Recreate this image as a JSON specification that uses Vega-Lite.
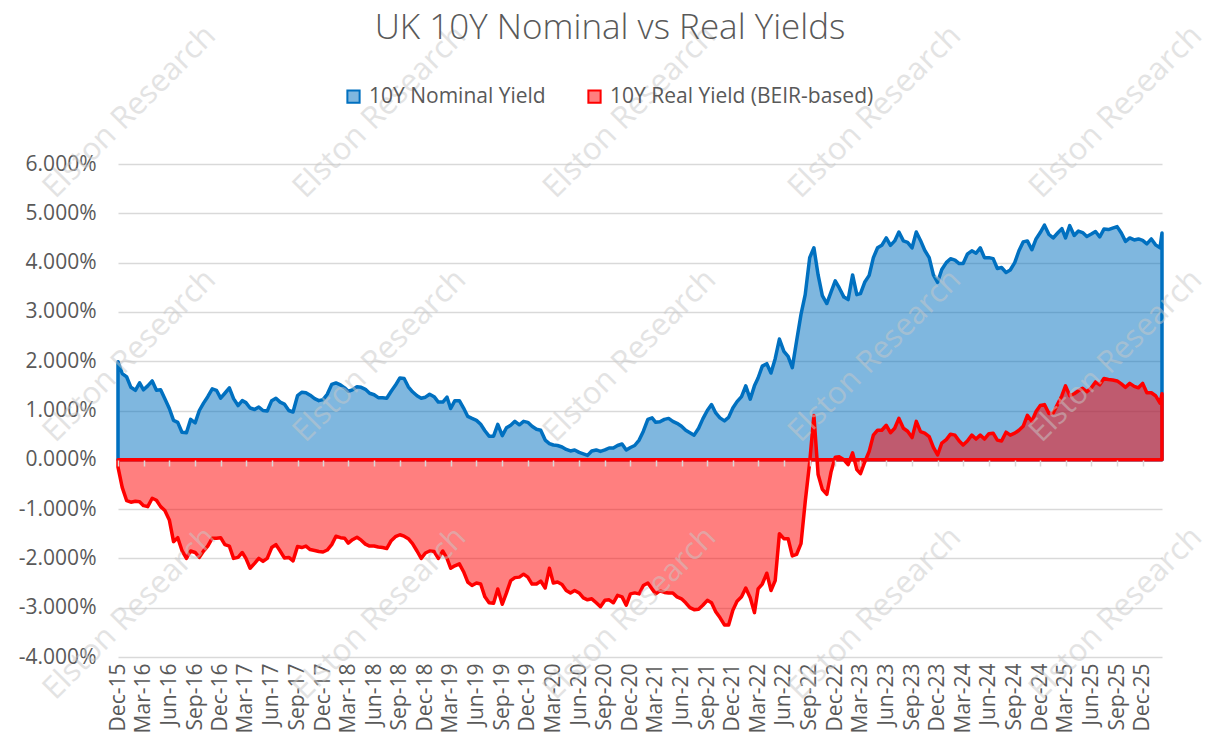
{
"$schema":"https://vega.github.io/schema/vega-lite/v6.json",
"width":1044,"height":493,
"autosize":{"type":"none"},
"padding":{"left":118,"top":164,"right":54,"bottom":81},
"background":"#FFFFFF",
"config":{"view":{"stroke":null},"font":"Open Sans"},
"title":{"text":"UK 10Y Nominal vs Real Yields","fontSize":35,"fontWeight":300,"font":"Open Sans","color":"#595959","anchor":"middle","frame":"group","offset":-26,"dx":-30},
"datasets":{"marks":[
{"text":"Elston Research","d":"2016-01-12","v":7.05},{"text":"Elston Research","d":"2018-06-22","v":7.05},{"text":"Elston Research","d":"2020-11-30","v":7.05},{"text":"Elston Research","d":"2023-04-22","v":7.05},{"text":"Elston Research","d":"2025-08-28","v":7.05},
{"text":"Elston Research","d":"2016-01-12","v":2.1},{"text":"Elston Research","d":"2018-06-22","v":2.1},{"text":"Elston Research","d":"2020-11-30","v":2.1},{"text":"Elston Research","d":"2023-04-22","v":2.1},{"text":"Elston Research","d":"2025-08-28","v":2.1},
{"text":"Elston Research","d":"2016-01-12","v":-3.12},{"text":"Elston Research","d":"2018-06-22","v":-3.12},{"text":"Elston Research","d":"2020-11-30","v":-3.12},{"text":"Elston Research","d":"2023-04-22","v":-3.12},{"text":"Elston Research","d":"2025-08-28","v":-3.12}
]},
"data":{"values":[
{"d":"2015-12-01","n":1.99,"r":-0.15},{"d":"2015-12-16","n":1.75,"r":-0.56},
{"d":"2016-01-01","n":1.68,"r":-0.83},{"d":"2016-01-16","n":1.47,"r":-0.86},
{"d":"2016-02-01","n":1.41,"r":-0.84},{"d":"2016-02-16","n":1.56,"r":-0.85},
{"d":"2016-03-01","n":1.42,"r":-0.93},{"d":"2016-03-16","n":1.5,"r":-0.95},
{"d":"2016-04-01","n":1.6,"r":-0.78},{"d":"2016-04-16","n":1.41,"r":-0.82},
{"d":"2016-05-01","n":1.42,"r":-0.95},{"d":"2016-05-16","n":1.24,"r":-1.03},
{"d":"2016-06-01","n":1.04,"r":-1.22},{"d":"2016-06-16","n":0.8,"r":-1.66},
{"d":"2016-07-01","n":0.76,"r":-1.58},{"d":"2016-07-16","n":0.56,"r":-1.84},
{"d":"2016-08-01","n":0.55,"r":-2.0},{"d":"2016-08-16","n":0.82,"r":-1.85},
{"d":"2016-09-01","n":0.75,"r":-1.88},{"d":"2016-09-16","n":1.0,"r":-1.98},
{"d":"2016-10-01","n":1.15,"r":-1.85},{"d":"2016-10-16","n":1.28,"r":-1.75},
{"d":"2016-11-01","n":1.44,"r":-1.59},{"d":"2016-11-16","n":1.41,"r":-1.59},
{"d":"2016-12-01","n":1.25,"r":-1.58},{"d":"2016-12-16","n":1.35,"r":-1.72},
{"d":"2017-01-01","n":1.46,"r":-1.75},{"d":"2017-01-16","n":1.24,"r":-2.0},
{"d":"2017-02-01","n":1.1,"r":-1.98},{"d":"2017-02-16","n":1.2,"r":-1.88},
{"d":"2017-03-01","n":1.16,"r":-2.0},{"d":"2017-03-16","n":1.05,"r":-2.2},
{"d":"2017-04-01","n":1.02,"r":-2.1},{"d":"2017-04-16","n":1.07,"r":-2.0},
{"d":"2017-05-01","n":1.0,"r":-2.06},{"d":"2017-05-16","n":0.99,"r":-2.0},
{"d":"2017-06-01","n":1.2,"r":-1.78},{"d":"2017-06-16","n":1.25,"r":-1.72},
{"d":"2017-07-01","n":1.17,"r":-1.85},{"d":"2017-07-16","n":1.13,"r":-1.99},
{"d":"2017-08-01","n":1.0,"r":-1.98},{"d":"2017-08-16","n":0.97,"r":-2.05},
{"d":"2017-09-01","n":1.3,"r":-1.76},{"d":"2017-09-16","n":1.37,"r":-1.78},
{"d":"2017-10-01","n":1.36,"r":-1.75},{"d":"2017-10-16","n":1.31,"r":-1.82},
{"d":"2017-11-01","n":1.24,"r":-1.84},{"d":"2017-11-16","n":1.2,"r":-1.86},
{"d":"2017-12-01","n":1.22,"r":-1.87},{"d":"2017-12-16","n":1.33,"r":-1.83},
{"d":"2018-01-01","n":1.53,"r":-1.72},{"d":"2018-01-16","n":1.56,"r":-1.55},
{"d":"2018-02-01","n":1.52,"r":-1.58},{"d":"2018-02-16","n":1.46,"r":-1.59},
{"d":"2018-03-01","n":1.39,"r":-1.69},{"d":"2018-03-16","n":1.42,"r":-1.62},
{"d":"2018-04-01","n":1.48,"r":-1.57},{"d":"2018-04-16","n":1.47,"r":-1.63},
{"d":"2018-05-01","n":1.43,"r":-1.71},{"d":"2018-05-16","n":1.35,"r":-1.75},
{"d":"2018-06-01","n":1.32,"r":-1.75},{"d":"2018-06-16","n":1.26,"r":-1.77},
{"d":"2018-07-01","n":1.26,"r":-1.78},{"d":"2018-07-16","n":1.25,"r":-1.8},
{"d":"2018-08-01","n":1.39,"r":-1.64},{"d":"2018-08-16","n":1.51,"r":-1.56},
{"d":"2018-09-01","n":1.66,"r":-1.52},{"d":"2018-09-16","n":1.65,"r":-1.55},
{"d":"2018-10-01","n":1.48,"r":-1.6},{"d":"2018-10-16","n":1.38,"r":-1.7},
{"d":"2018-11-01","n":1.3,"r":-1.85},{"d":"2018-11-16","n":1.25,"r":-2.0},
{"d":"2018-12-01","n":1.27,"r":-1.89},{"d":"2018-12-16","n":1.33,"r":-1.85},
{"d":"2019-01-01","n":1.28,"r":-1.86},{"d":"2019-01-16","n":1.17,"r":-2.0},
{"d":"2019-02-01","n":1.17,"r":-1.85},{"d":"2019-02-16","n":1.27,"r":-2.0},
{"d":"2019-03-01","n":1.04,"r":-2.2},{"d":"2019-03-16","n":1.2,"r":-2.15},
{"d":"2019-04-01","n":1.2,"r":-2.11},{"d":"2019-04-16","n":1.05,"r":-2.27},
{"d":"2019-05-01","n":0.88,"r":-2.48},{"d":"2019-05-16","n":0.84,"r":-2.55},
{"d":"2019-06-01","n":0.8,"r":-2.5},{"d":"2019-06-16","n":0.72,"r":-2.52},
{"d":"2019-07-01","n":0.59,"r":-2.78},{"d":"2019-07-16","n":0.48,"r":-2.9},
{"d":"2019-08-01","n":0.48,"r":-2.91},{"d":"2019-08-16","n":0.72,"r":-2.62},
{"d":"2019-09-01","n":0.49,"r":-2.93},{"d":"2019-09-16","n":0.65,"r":-2.7},
{"d":"2019-10-01","n":0.7,"r":-2.45},{"d":"2019-10-16","n":0.78,"r":-2.39},
{"d":"2019-11-01","n":0.71,"r":-2.38},{"d":"2019-11-16","n":0.78,"r":-2.32},
{"d":"2019-12-01","n":0.76,"r":-2.38},{"d":"2019-12-16","n":0.68,"r":-2.52},
{"d":"2020-01-01","n":0.62,"r":-2.52},{"d":"2020-01-16","n":0.6,"r":-2.46},
{"d":"2020-02-01","n":0.4,"r":-2.6},{"d":"2020-02-16","n":0.33,"r":-2.2},
{"d":"2020-03-01","n":0.3,"r":-2.5},{"d":"2020-03-16","n":0.29,"r":-2.48},
{"d":"2020-04-01","n":0.26,"r":-2.53},{"d":"2020-04-16","n":0.21,"r":-2.65},
{"d":"2020-05-01","n":0.18,"r":-2.7},{"d":"2020-05-16","n":0.2,"r":-2.65},
{"d":"2020-06-01","n":0.15,"r":-2.7},{"d":"2020-06-16","n":0.12,"r":-2.8},
{"d":"2020-07-01","n":0.09,"r":-2.84},{"d":"2020-07-16","n":0.18,"r":-2.82},
{"d":"2020-08-01","n":0.2,"r":-2.9},{"d":"2020-08-16","n":0.17,"r":-2.98},
{"d":"2020-09-01","n":0.2,"r":-2.85},{"d":"2020-09-16","n":0.24,"r":-2.84},
{"d":"2020-10-01","n":0.24,"r":-2.9},{"d":"2020-10-16","n":0.29,"r":-2.75},
{"d":"2020-11-01","n":0.32,"r":-2.78},{"d":"2020-11-16","n":0.2,"r":-2.95},
{"d":"2020-12-01","n":0.25,"r":-2.72},{"d":"2020-12-16","n":0.29,"r":-2.7},
{"d":"2021-01-01","n":0.4,"r":-2.72},{"d":"2021-01-16","n":0.58,"r":-2.55},
{"d":"2021-02-01","n":0.82,"r":-2.5},{"d":"2021-02-16","n":0.85,"r":-2.62},
{"d":"2021-03-01","n":0.76,"r":-2.72},{"d":"2021-03-16","n":0.77,"r":-2.66},
{"d":"2021-04-01","n":0.82,"r":-2.69},{"d":"2021-04-16","n":0.84,"r":-2.7},
{"d":"2021-05-01","n":0.78,"r":-2.7},{"d":"2021-05-16","n":0.74,"r":-2.78},
{"d":"2021-06-01","n":0.68,"r":-2.82},{"d":"2021-06-16","n":0.6,"r":-2.9},
{"d":"2021-07-01","n":0.55,"r":-3.0},{"d":"2021-07-16","n":0.5,"r":-3.04},
{"d":"2021-08-01","n":0.64,"r":-3.03},{"d":"2021-08-16","n":0.83,"r":-2.95},
{"d":"2021-09-01","n":1.0,"r":-2.85},{"d":"2021-09-16","n":1.12,"r":-2.9},
{"d":"2021-10-01","n":0.95,"r":-3.08},{"d":"2021-10-16","n":0.85,"r":-3.2},
{"d":"2021-11-01","n":0.79,"r":-3.35},{"d":"2021-11-16","n":0.86,"r":-3.35},
{"d":"2021-12-01","n":1.05,"r":-3.05},{"d":"2021-12-16","n":1.18,"r":-2.87},
{"d":"2022-01-01","n":1.28,"r":-2.78},{"d":"2022-01-16","n":1.5,"r":-2.6},
{"d":"2022-02-01","n":1.23,"r":-2.8},{"d":"2022-02-16","n":1.5,"r":-3.1},
{"d":"2022-03-01","n":1.66,"r":-2.62},{"d":"2022-03-16","n":1.9,"r":-2.52},
{"d":"2022-04-01","n":1.95,"r":-2.3},{"d":"2022-04-16","n":1.76,"r":-2.65},
{"d":"2022-05-01","n":2.05,"r":-2.45},{"d":"2022-05-16","n":2.45,"r":-1.5},
{"d":"2022-06-01","n":2.2,"r":-1.6},{"d":"2022-06-16","n":2.1,"r":-1.6},
{"d":"2022-07-01","n":1.87,"r":-1.95},{"d":"2022-07-16","n":2.4,"r":-1.92},
{"d":"2022-08-01","n":2.95,"r":-1.7},{"d":"2022-08-16","n":3.35,"r":-0.85},
{"d":"2022-09-01","n":4.1,"r":-0.05},{"d":"2022-09-16","n":4.3,"r":0.9},
{"d":"2022-10-01","n":3.75,"r":-0.3},{"d":"2022-10-16","n":3.33,"r":-0.6},
{"d":"2022-11-01","n":3.17,"r":-0.7},{"d":"2022-11-16","n":3.4,"r":-0.25},
{"d":"2022-12-01","n":3.63,"r":0.05},{"d":"2022-12-16","n":3.48,"r":0.06},
{"d":"2023-01-01","n":3.3,"r":0.0},{"d":"2023-01-16","n":3.25,"r":-0.1},
{"d":"2023-02-01","n":3.75,"r":0.14},{"d":"2023-02-16","n":3.35,"r":-0.2},
{"d":"2023-03-01","n":3.37,"r":-0.28},{"d":"2023-03-16","n":3.6,"r":-0.05},
{"d":"2023-04-01","n":3.74,"r":0.17},{"d":"2023-04-16","n":4.1,"r":0.5},
{"d":"2023-05-01","n":4.3,"r":0.6},{"d":"2023-05-16","n":4.35,"r":0.6},
{"d":"2023-06-01","n":4.5,"r":0.7},{"d":"2023-06-16","n":4.35,"r":0.55},
{"d":"2023-07-01","n":4.44,"r":0.64},{"d":"2023-07-16","n":4.62,"r":0.84},
{"d":"2023-08-01","n":4.44,"r":0.64},{"d":"2023-08-16","n":4.41,"r":0.58},
{"d":"2023-09-01","n":4.3,"r":0.45},{"d":"2023-09-16","n":4.62,"r":0.78},
{"d":"2023-10-01","n":4.45,"r":0.57},{"d":"2023-10-16","n":4.25,"r":0.54},
{"d":"2023-11-01","n":4.1,"r":0.47},{"d":"2023-11-16","n":3.75,"r":0.25},
{"d":"2023-12-01","n":3.6,"r":0.1},{"d":"2023-12-16","n":3.86,"r":0.34},
{"d":"2024-01-01","n":4.0,"r":0.41},{"d":"2024-01-16","n":4.08,"r":0.52},
{"d":"2024-02-01","n":4.05,"r":0.5},{"d":"2024-02-16","n":3.98,"r":0.38},
{"d":"2024-03-01","n":3.98,"r":0.3},{"d":"2024-03-16","n":4.17,"r":0.38},
{"d":"2024-04-01","n":4.24,"r":0.5},{"d":"2024-04-16","n":4.19,"r":0.42},
{"d":"2024-05-01","n":4.3,"r":0.5},{"d":"2024-05-16","n":4.1,"r":0.42},
{"d":"2024-06-01","n":4.1,"r":0.53},{"d":"2024-06-16","n":4.08,"r":0.54},
{"d":"2024-07-01","n":3.88,"r":0.4},{"d":"2024-07-16","n":3.9,"r":0.38},
{"d":"2024-08-01","n":3.8,"r":0.56},{"d":"2024-08-16","n":3.85,"r":0.5},
{"d":"2024-09-01","n":4.0,"r":0.54},{"d":"2024-09-16","n":4.24,"r":0.6},
{"d":"2024-10-01","n":4.42,"r":0.68},{"d":"2024-10-16","n":4.44,"r":0.9},
{"d":"2024-11-01","n":4.26,"r":0.78},{"d":"2024-11-16","n":4.48,"r":0.98},
{"d":"2024-12-01","n":4.61,"r":1.1},{"d":"2024-12-16","n":4.76,"r":1.12},
{"d":"2025-01-01","n":4.57,"r":0.94},{"d":"2025-01-16","n":4.5,"r":0.95},
{"d":"2025-02-01","n":4.6,"r":1.13},{"d":"2025-02-16","n":4.69,"r":1.3},
{"d":"2025-03-01","n":4.5,"r":1.5},{"d":"2025-03-16","n":4.75,"r":1.3},
{"d":"2025-04-01","n":4.55,"r":1.34},{"d":"2025-04-16","n":4.64,"r":1.4},
{"d":"2025-05-01","n":4.61,"r":1.45},{"d":"2025-05-16","n":4.53,"r":1.38},
{"d":"2025-06-01","n":4.58,"r":1.46},{"d":"2025-06-16","n":4.63,"r":1.58},
{"d":"2025-07-01","n":4.52,"r":1.52},{"d":"2025-07-16","n":4.68,"r":1.65},
{"d":"2025-08-01","n":4.67,"r":1.63},{"d":"2025-08-16","n":4.7,"r":1.62},
{"d":"2025-09-01","n":4.73,"r":1.6},{"d":"2025-09-16","n":4.6,"r":1.54},
{"d":"2025-10-01","n":4.43,"r":1.47},{"d":"2025-10-16","n":4.5,"r":1.55},
{"d":"2025-11-01","n":4.46,"r":1.49},{"d":"2025-11-16","n":4.48,"r":1.46},
{"d":"2025-12-01","n":4.45,"r":1.55},{"d":"2025-12-16","n":4.38,"r":1.36},
{"d":"2026-01-01","n":4.48,"r":1.36},{"d":"2026-01-16","n":4.36,"r":1.3},
{"d":"2026-02-01","n":4.3,"r":1.15},{"d":"2026-02-08","n":4.6,"r":1.34}
]},
"layer":[
{"mark":{"type":"area","fillOpacity":0.5,"strokeWidth":3.5,"strokeJoin":"round"},
 "encoding":{
  "x":{"field":"d","type":"temporal","scale":{"domain":[{"year":2015,"month":12,"date":1},{"year":2026,"month":2,"date":8}]},
   "axis":{"title":null,"format":"%b-%y","labelAngle":-90,"labelFontSize":21,"labelColor":"#595959","labelFont":"Open Sans","labelPadding":6,"ticks":false,"domain":false,"grid":false,"labelOverlap":false,"labelFlush":false,"labelBound":false,
    "values":[{"year":2015,"month":12,"date":1},{"year":2016,"month":3,"date":1},{"year":2016,"month":6,"date":1},{"year":2016,"month":9,"date":1},{"year":2016,"month":12,"date":1},{"year":2017,"month":3,"date":1},{"year":2017,"month":6,"date":1},{"year":2017,"month":9,"date":1},{"year":2017,"month":12,"date":1},{"year":2018,"month":3,"date":1},{"year":2018,"month":6,"date":1},{"year":2018,"month":9,"date":1},{"year":2018,"month":12,"date":1},{"year":2019,"month":3,"date":1},{"year":2019,"month":6,"date":1},{"year":2019,"month":9,"date":1},{"year":2019,"month":12,"date":1},{"year":2020,"month":3,"date":1},{"year":2020,"month":6,"date":1},{"year":2020,"month":9,"date":1},{"year":2020,"month":12,"date":1},{"year":2021,"month":3,"date":1},{"year":2021,"month":6,"date":1},{"year":2021,"month":9,"date":1},{"year":2021,"month":12,"date":1},{"year":2022,"month":3,"date":1},{"year":2022,"month":6,"date":1},{"year":2022,"month":9,"date":1},{"year":2022,"month":12,"date":1},{"year":2023,"month":3,"date":1},{"year":2023,"month":6,"date":1},{"year":2023,"month":9,"date":1},{"year":2023,"month":12,"date":1},{"year":2024,"month":3,"date":1},{"year":2024,"month":6,"date":1},{"year":2024,"month":9,"date":1},{"year":2024,"month":12,"date":1},{"year":2025,"month":3,"date":1},{"year":2025,"month":6,"date":1},{"year":2025,"month":9,"date":1},{"year":2025,"month":12,"date":1}]}},
  "y":{"field":"n","type":"quantitative","stack":null,"scale":{"domain":[-4,6],"nice":false},
   "axis":{"title":null,"values":[-4,-3,-2,-1,0,1,2,3,4,5,6],"labelExpr":"(datum.value < 0 ? '-' : '') + format(abs(datum.value), '.3f') + '%'","labelFontSize":21,"labelColor":"#595959","labelFont":"Open Sans","labelPadding":22,"ticks":false,"domain":false,"grid":true,"gridColor":"#D9D9D9","gridWidth":1.5}},
  "fill":{"datum":"10Y Nominal Yield","type":"nominal","scale":{"domain":["10Y Nominal Yield","10Y Real Yield (BEIR-based)"],"range":["#0070C0","#FF0000"]},
   "legend":{"title":null,"orient":"none","legendX":225,"legendY":-78,"direction":"horizontal","symbolType":"square","symbolSize":150,"symbolStrokeWidth":2,"labelFontSize":21,"labelColor":"#595959","labelFont":"Open Sans","labelLimit":500,"columnPadding":38,"labelOffset":5,"encoding":{"symbols":{"fillOpacity":{"value":0.5}}}}},
  "stroke":{"datum":"10Y Nominal Yield","type":"nominal","scale":{"domain":["10Y Nominal Yield","10Y Real Yield (BEIR-based)"],"range":["#0070C0","#FF0000"]},
   "legend":{"title":null,"orient":"none","legendX":225,"legendY":-78,"direction":"horizontal","symbolType":"square","symbolSize":150,"symbolStrokeWidth":2,"labelFontSize":21,"labelColor":"#595959","labelFont":"Open Sans","labelLimit":500,"columnPadding":38,"labelOffset":5,"encoding":{"symbols":{"fillOpacity":{"value":0.5}}}}}
 }},
{"mark":{"type":"area","fillOpacity":0.5,"strokeWidth":3.5,"strokeJoin":"round"},
 "encoding":{
  "x":{"field":"d","type":"temporal","axis":null},
  "y":{"field":"r","type":"quantitative","stack":null},
  "fill":{"datum":"10Y Real Yield (BEIR-based)","type":"nominal"},
  "stroke":{"datum":"10Y Real Yield (BEIR-based)","type":"nominal"}
 }},
{"mark":{"type":"line","opacity":0},
 "encoding":{
  "x":{"field":"d","type":"temporal",
   "axis":{"title":null,"orient":"bottom","offset":-197,"labels":false,"domain":false,"grid":false,"ticks":true,"tickSize":6,"tickColor":"#D9D9D9","tickWidth":1.5,"zindex":1,
    "values":[{"year":2015,"month":12,"date":1},{"year":2016,"month":3,"date":1},{"year":2016,"month":6,"date":1},{"year":2016,"month":9,"date":1},{"year":2016,"month":12,"date":1},{"year":2017,"month":3,"date":1},{"year":2017,"month":6,"date":1},{"year":2017,"month":9,"date":1},{"year":2017,"month":12,"date":1},{"year":2018,"month":3,"date":1},{"year":2018,"month":6,"date":1},{"year":2018,"month":9,"date":1},{"year":2018,"month":12,"date":1},{"year":2019,"month":3,"date":1},{"year":2019,"month":6,"date":1},{"year":2019,"month":9,"date":1},{"year":2019,"month":12,"date":1},{"year":2020,"month":3,"date":1},{"year":2020,"month":6,"date":1},{"year":2020,"month":9,"date":1},{"year":2020,"month":12,"date":1},{"year":2021,"month":3,"date":1},{"year":2021,"month":6,"date":1},{"year":2021,"month":9,"date":1},{"year":2021,"month":12,"date":1},{"year":2022,"month":3,"date":1},{"year":2022,"month":6,"date":1},{"year":2022,"month":9,"date":1},{"year":2022,"month":12,"date":1},{"year":2023,"month":3,"date":1},{"year":2023,"month":6,"date":1},{"year":2023,"month":9,"date":1},{"year":2023,"month":12,"date":1},{"year":2024,"month":3,"date":1},{"year":2024,"month":6,"date":1},{"year":2024,"month":9,"date":1},{"year":2024,"month":12,"date":1},{"year":2025,"month":3,"date":1},{"year":2025,"month":6,"date":1},{"year":2025,"month":9,"date":1},{"year":2025,"month":12,"date":1}]}},
  "y":{"datum":0,"type":"quantitative"}
 }},
{"data":{"name":"marks"},
 "mark":{"type":"text","angle":-45,"fontSize":31,"font":"Open Sans","color":"#C8C8C8","opacity":0.5,"align":"center","baseline":"middle"},
 "encoding":{
  "x":{"field":"d","type":"temporal","axis":null},
  "y":{"field":"v","type":"quantitative"},
  "text":{"field":"text"}
 }}
],
"resolve":{"axis":{"x":"independent"}}
}
